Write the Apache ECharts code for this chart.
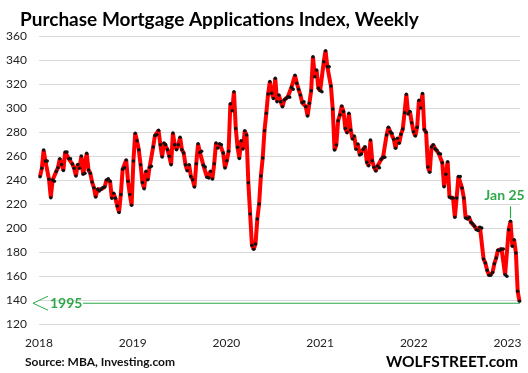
<!DOCTYPE html>
<html><head><meta charset="utf-8">
<script src="https://cdn.jsdelivr.net/npm/echarts@6/dist/echarts.min.js"></script>
<style>html,body{margin:0;padding:0;background:#fff}#c{width:528px;height:373px}</style>
</head><body><div id="c"></div>
<script>
// Weekly index values, consecutive weeks starting 2018-01-05
const values2018 = [242.8,249.7,265,255.8,255.8,240.6,225.3,240,239,247,250.3,257.8,253,248,263.3,263.3,257.8,257.8,253.3,249.7,243.3,253,249.7,260,244.7,245.6,262.2,248.3,245.6,238.3,233.6,225.8,232.2,230.8,232.2,233.6,234.2,240,241,239,224.7,228.9,224.7,218.3,213,228,248.9,250.3,256.7,239,228,218.9,255.8];
const values2019 = [278.9,272.8,265.3,252.8,238,232.8,247.2,240.3,250.6,251.4,267.5,277,277.8,281.4,269.4,259.2,270.8,269.4,265.3,259.7,252.8,279.2,269.4,265.3,269.4,275.6,265.3,262.5,252.8,247.8,252.8,243,240.3,234.2,253.6,270.3,263,263.9,252.2,250.8,242.2,241.7,247.2,240.8,253.6,270.8,266.7,270.3,269.4,262.5,250,256,263.9];
const values2020 = [303.6,297.8,313.6,283,267.2,258,272.8,265.8,281.1,277.5,237.8,211.7,185.6,182.2,186.7,207.5,220,243.3,258.3,281.1,295.6,311.7,322,312.2,308,324.7,305.3,310.8,305.3,301.1,306.7,308,309.4,308.9,317.2,315.6,327.2,320.6,315.6,310.8,304.4,305.3,301.1,293.3,303.9,314.4,342.8,326.1,331.7,316.4,314.4,313.6];
const values2021 = [338.6,347.8,334.4,334.4,318.3,299.2,265,269.2,289.4,294.2,301.7,297,283,279.4,295.6,281.7,274.2,276.7,265.6,270,260.8,261.7,265.6,267.8,254.7,251.9,273.3,256.1,250.6,247.5,251.7,250.3,257.2,258.9,258.9,277.5,283.9,280.3,278.9,273.9,266.4,274.7,270.6,278.1,282.5,296.1,311.4,295,297,287.8,280.3,276.7,283.9];
const values2022 = [306.4,300,312,282,279.7,250.8,246.4,267.5,269.4,266.1,264.7,262.2,261.7,254.4,234.4,244.7,255.3,225.8,225,225,208.9,225,243,243,233.3,225,208.3,207.5,208.9,204.7,203.3,201.4,198.6,198,200.6,200,174.2,170.8,164.7,160.6,160.6,163,170.3,175,181.4,181.4,182.5,182.5,161.1,159.7];
const values2023 = [198.6,205.6,184.7,190.3,179.2,147.2,138.9];
const firstWeek = Date.UTC(2018, 0, 5);
const firstYear = 2018;
const yMin = 120, yMax = 360, yStep = 20;
const level1995 = 137.3;

const values = [].concat(values2018, values2019, values2020, values2021, values2022, values2023);
const DAY = 86400000, WEEK = 7 * DAY, YEAR = 365.25 * DAY;
const seriesData = values.map((v, i) => [firstWeek + i * WEEK, v]);
const lastDate = firstWeek + (values.length - 1) * WEEK;
const xMin = Date.UTC(firstYear, 0, 1);
const xMax = lastDate + 2 * DAY;

const GREEN = '#2fa84a';
const FONT = 'Lato';
const chart = echarts.init(document.getElementById('c'), null, {renderer: 'canvas'});
chart.setOption({
  animation: false,
  backgroundColor: '#fff',
  textStyle: {fontFamily: FONT},
  title: {
    text: 'Purchase Mortgage Applications Index, Weekly',
    left: 15, top: 5,
    textStyle: {fontFamily: FONT, fontSize: 19, fontWeight: 'bold', color: '#000'}
  },
  grid: {left: 39, right: 8, top: 36, bottom: 49, containLabel: false},
  xAxis: {
    type: 'value',
    min: xMin, max: xMax, interval: YEAR,
    axisLine: {show: false},
    axisTick: {show: false},
    splitLine: {show: false},
    axisLabel: {
      formatter: v => String(new Date(v + 2 * DAY).getUTCFullYear()),
      fontFamily: FONT, fontSize: 12, color: '#222', margin: 13,
      showMinLabel: true, showMaxLabel: false
    }
  },
  yAxis: {
    type: 'value', min: yMin, max: yMax, interval: yStep,
    axisLine: {show: false}, axisTick: {show: false},
    axisLabel: {fontFamily: FONT, fontSize: 12, color: '#222', margin: 12},
    splitLine: {lineStyle: {color: '#d9d9d9', width: 1}}
  },
  series: [{
    type: 'line',
    data: seriesData,
    showAllSymbol: true,
    symbol: 'circle',
    symbolSize: 3.5,
    itemStyle: {color: '#111', borderWidth: 0},
    lineStyle: {color: '#ff0000', width: 4},
    z: 3
  }]
});

// annotations positioned from data values
const gridRight = chart.convertToPixel({xAxisIndex: 0}, xMax);
const y1995 = chart.convertToPixel({yAxisIndex: 0}, level1995);
let peakIdx = values.length - values2023.length;
for (let i = peakIdx; i < values.length; i++) if (values[i] > values[peakIdx]) peakIdx = i;
const peakPx = chart.convertToPixel({gridIndex: 0}, seriesData[peakIdx]);

chart.setOption({
  graphic: [
    {type: 'line', shape: {x1: 83, y1: y1995, x2: gridRight, y2: y1995}, style: {stroke: GREEN, lineWidth: 1.2}, z: 10},
    {type: 'polyline', shape: {points: [[48, y1995 - 7], [33, y1995], [48, y1995 + 7]]}, style: {stroke: GREEN, lineWidth: 1, fill: null}, z: 10},
    {type: 'text', x: 50, y: y1995, style: {text: '1995', fill: GREEN, font: 'bold 14px Lato', textVerticalAlign: 'middle'}, z: 10},
    {type: 'line', shape: {x1: peakPx[0], y1: peakPx[1] - 3, x2: peakPx[0], y2: peakPx[1] - 15}, style: {stroke: GREEN, lineWidth: 1.2}, z: 10},
    {type: 'text', x: peakPx[0] - 6, y: peakPx[1] - 19, style: {text: 'Jan 25', fill: GREEN, font: 'bold 14px Lato', textAlign: 'center', textVerticalAlign: 'bottom'}, z: 10},
    {type: 'text', x: 25, y: 362, style: {text: 'Source: MBA, Investing.com', fill: '#111', font: 'bold 12px Lato', textVerticalAlign: 'middle'}, z: 10},
    {type: 'text', x: 518, y: 362, style: {text: 'WOLFSTREET.com', fill: '#000', font: 'bold 15.5px Lato', textAlign: 'right', textVerticalAlign: 'middle'}, z: 10}
  ]
});
</script>
</body></html>
